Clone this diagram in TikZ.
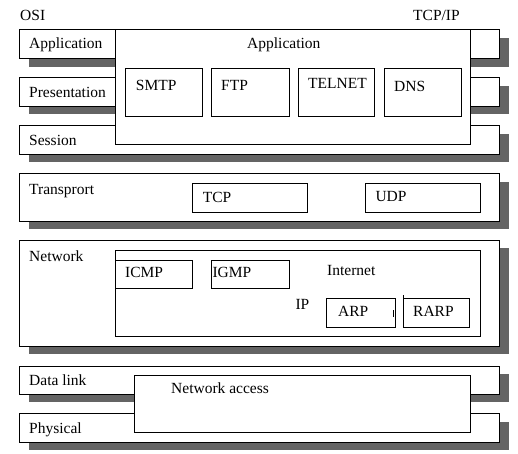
\documentclass[tikz,border=0pt]{standalone}
\usepackage{fontspec}
\setmainfont{Liberation Serif}
\usetikzlibrary{backgrounds}
\definecolor{shadowgray}{RGB}{100,100,100}
\tikzset{
  box/.style={draw=black, fill=white, line width=1pt, inner sep=0pt, outer sep=0pt, anchor=north west},
  osibox/.style={box},
  shadowfill/.style={fill=shadowgray},
  lbl/.style={anchor=base west, inner sep=0pt, font=\fontsize{15.5}{18}\selectfont}
}
\begin{document}
\begin{tikzpicture}[x=1pt,y=-1pt]
\useasboundingbox (0,0) rectangle (518,453);
% OSI layers
\node[osibox, minimum width=480pt, minimum height=29pt] (app) at (19.5,29.5) {};
\node[osibox, minimum width=480pt, minimum height=28.5pt] (pres) at (19.5,77.5) {};
\node[osibox, minimum width=480pt, minimum height=28.5pt] (sess) at (19.5,125.5) {};
\node[osibox, minimum width=480pt, minimum height=47.5pt] (trans) at (19.5,173.5) {};
\node[osibox, minimum width=480pt, minimum height=106pt] (net) at (19.5,240) {};
\node[osibox, minimum width=480pt, minimum height=28pt] (dlink) at (19.5,366) {};
\node[osibox, minimum width=480pt, minimum height=28.5pt] (phys) at (19.5,413.5) {};
\begin{pgfonlayer}{background}
  \foreach \n in {app,pres,sess,trans,net,dlink,phys}
    \fill[shadowfill] ([shift={(9,8)}]\n.north west) rectangle ([shift={(9,8)}]\n.south east);
\end{pgfonlayer}
% TCP/IP boxes
\node[box, minimum width=355pt, minimum height=114.5pt] (tapp) at (115,29.5) {};
\node[box, minimum width=77pt, minimum height=48pt] (smtp) at (125,68) {};
\node[box, minimum width=78pt, minimum height=48pt] (ftp) at (211,68) {};
\node[box, minimum width=76pt, minimum height=48pt] (telnet) at (298,68) {};
\node[box, minimum width=77pt, minimum height=48pt] (dns) at (384,68) {};
\node[box, minimum width=115pt, minimum height=29pt] (tcp) at (192,183) {};
\node[box, minimum width=115pt, minimum height=29pt] (udp) at (365,183) {};
\node[box, minimum width=365pt, minimum height=86pt] (ipbox) at (115,250) {};
\node[box, minimum width=77pt, minimum height=28pt] (icmp) at (115,260) {};
\node[box, minimum width=78pt, minimum height=28pt] (igmp) at (211,260) {};
\node[box, minimum width=69pt, minimum height=29pt] (arp) at (326,298) {};
\node[box, minimum width=66pt, minimum height=29pt] (rarp) at (403,298) {};
\node[box, minimum width=336pt, minimum height=57pt] (netacc) at (134,375) {};
% small marks near ARP/RARP
\draw[line width=1pt] (rarp.north west) -- ++(0,-3);
\draw[line width=1pt] ([xshift=-1.5pt,yshift=-12pt]arp.north east) -- ++(0,7);
% labels
\node[lbl] (osi) at (20,20) {OSI};
\node[lbl] (tcpip) at (413,20) {TCP/IP};
\node[lbl] at (29,48.3) {Application};
\node[lbl] at (247,48.3) {Application};
\node[lbl] at (29,97.3) {Presentation};
\node[lbl] at (29,145) {Session};
\node[lbl] at (135.7,90.7) {SMTP};
\node[lbl] at (221,90.7) {FTP};
\node[lbl] at (308,88.3) {TELNET};
\node[lbl] at (394,91.5) {DNS};
\node[lbl] at (29,194) {Transprort};
\node[lbl] at (202.7,202.7) {TCP};
\node[lbl] at (375.3,201.7) {UDP};
\node[lbl] at (29,261.7) {Network};
\node[lbl] at (125,277.3) {ICMP};
\node[lbl] at (212.3,277.3) {IGMP};
\node[lbl] at (327,275) {Internet};
\node[lbl] at (295.3,309) {IP};
\node[lbl] at (338,316.7) {ARP};
\node[lbl] at (413,316.7) {RARP};
\node[lbl] at (29,385) {Data link};
\node[lbl] at (29,433.3) {Physical};
\node[lbl] at (171,393.3) {Network access};
\end{tikzpicture}
\end{document}
